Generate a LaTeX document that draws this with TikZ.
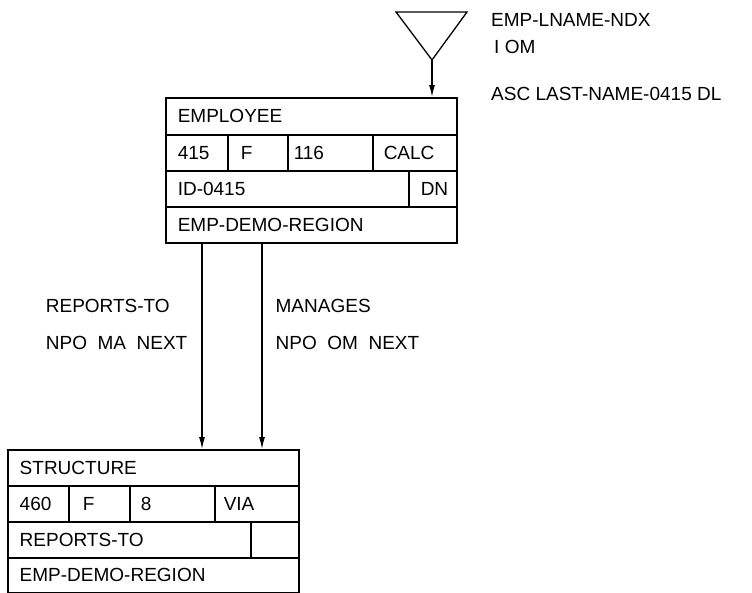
\documentclass[tikz,border=0pt]{standalone}
\usepackage{fontspec}
\setmainfont{Liberation Sans}
\usetikzlibrary{arrows.meta}

\begin{document}
\begin{tikzpicture}[x=1pt, y=-1pt,
    every node/.style={font=\fontsize{19pt}{37pt}\selectfont},
    cell/.style={draw, line width=1.5pt, anchor=north west, inner xsep=12pt, inner ysep=0pt, minimum height=36pt, align=left},
    lbl/.style={anchor=base west, inner sep=0pt},
    setlbl/.style={inner sep=0pt, align=left, pos=0.394},
    arr/.style={line width=1.3pt, -{Latex[length=12pt, width=6pt]}}
  ]
  \useasboundingbox (0,0) rectangle (752,592);

  \node[cell, text width=267pt, minimum height=37pt] (emp) at (165,97) {EMPLOYEE};
  \node[cell, text width=38pt] (emp-id) at (165,134) {415};
  \node[cell, inner xsep=13pt, text width=34pt] (emp-type) at (227,134) {F};
  \node[cell, inner xsep=6pt, text width=73pt] (emp-len) at (287,134) {116};
  \node[cell, inner xsep=11pt, text width=62pt] (emp-mode) at (372,134) {CALC};
  \node[cell, text width=219pt] (emp-calc) at (165,170) {ID-0415};
  \node[cell, text width=24pt] (emp-dup) at (408,170) {DN};
  \node[cell, text width=267pt] (emp-area) at (165,206) {EMP-DEMO-REGION};

  \node[cell, text width=267pt] (str) at (7,449) {STRUCTURE};
  \node[cell, text width=37pt] (str-id) at (7,485) {460};
  \node[cell, inner xsep=14pt, text width=33pt] (str-type) at (68,485) {F};
  \node[cell, inner xsep=11pt, text width=63pt] (str-len) at (129,485) {8};
  \node[cell, inner xsep=9pt, text width=66pt] (str-mode) at (214,485) {VIA};
  \node[cell, text width=219pt] (str-via) at (7,521) {REPORTS-TO};
  \node[cell, text width=24pt] (str-blank) at (250,521) {};
  \node[cell, text width=267pt, minimum height=35pt] (str-area) at (7,557) {EMP-DEMO-REGION};

  \coordinate (ndx) at (432,60);
  \draw[line width=1.3pt] (396,12) -- (467,12) -- (ndx) -- cycle;
  \node[lbl] (ndx-name) at (491,26) {EMP-LNAME-NDX};
  \node[lbl] (ndx-set) at (494,53) {I OM};
  \node[lbl] (ndx-key) at (491,100) {ASC LAST-NAME-0415 DL};

  \coordinate (rpt) at ([xshift=37pt]emp-area.south west);
  \coordinate (mgr) at ([xshift=97pt]emp-area.south west);

  \draw[arr] (ndx) -- (ndx |- emp.north);
  \draw[arr] (rpt) -- node[setlbl, anchor=east, xshift=-14pt]{REPORTS-TO\\NPO~~MA~~NEXT} (rpt |- str.north);
  \draw[arr] (mgr) -- node[setlbl, anchor=west, xshift=13pt]{MANAGES\\NPO~~OM~~NEXT} (mgr |- str.north);
\end{tikzpicture}
\end{document}
